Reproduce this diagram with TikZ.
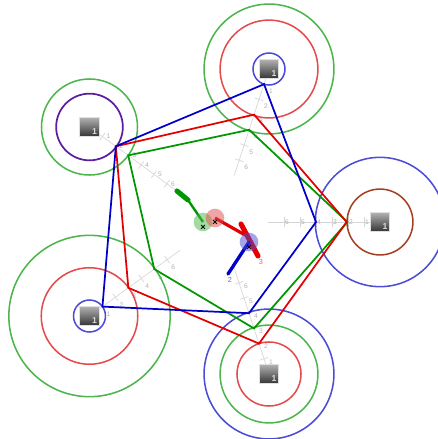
\documentclass[tikz,border=0pt]{standalone}
\usepackage{fontspec}
\setmainfont{Liberation Sans}
\usetikzlibrary{calc}
\definecolor{cg}{RGB}{76,181,76}
\definecolor{cr}{RGB}{226,76,76}
\definecolor{cb}{RGB}{76,76,214}
\definecolor{lg}{RGB}{0,150,0}
\definecolor{lr}{RGB}{226,0,0}
\definecolor{lb}{RGB}{0,0,200}
\definecolor{ax}{RGB}{214,214,214}
\definecolor{tk}{RGB}{175,175,175}
\definecolor{brown}{RGB}{165,65,35}
\definecolor{purp}{RGB}{90,30,160}
\tikzset{
  x=0.75pt,y=-0.75pt,
  ring/.style={draw=#1,line width=1.15pt,fill=none},
  poly/.style={draw=#1,line width=1.3pt,line join=miter},
  sq/.style={draw=black!12,line width=.5pt,minimum size=14.6pt,inner sep=0pt,outer sep=0pt,
    top color=black!30,bottom color=black!80,text=white},
  num/.style={font=\fontsize{5}{5}\selectfont,text=tk,inner sep=0pt},
  halo/.style={circle,minimum size=14pt,inner sep=0pt,fill=#1,fill opacity=.5,draw=none},
  vlab/.style={font=\fontsize{5.5}{5.5}\selectfont,inner sep=0pt,text=#1},
  xmark/.style={font=\fontsize{7}{7}\bfseries\selectfont,inner sep=0pt}
}
\newcommand{\axisfrom}[4]{%
  \coordinate (e#1) at ($(#1)!84pt!(#2)$);
  \draw[ax,line width=.5pt] (#1) -- (e#1);
  \foreach \k in {1,...,6}{
    \pgfmathsetmacro{\dd}{\k*12}
    \coordinate (m) at ($(#1)!\dd pt!(#2)$);
    \draw[ax,line width=.5pt] ($(m)!3.4pt!90:(#2)$) -- ($(m)!3.4pt!-90:(#2)$);
    \node[num] at ($(m)+(#3,#4)$) {\k};
  }
}
\begin{document}
\begin{tikzpicture}
\useasboundingbox (0,0) rectangle (437,439);
\coordinate (c) at (219,222);
\coordinate (t) at (269,69);
\coordinate (r) at (380,222);
\coordinate (b) at (269,374);
\coordinate (l) at (89.5,316);
\coordinate (u) at (89.5,127);
% axes
\axisfrom{t}{c}{7}{7}
\axisfrom{r}{c}{3}{0}
\axisfrom{b}{c}{7}{3}
\axisfrom{l}{c}{6}{8}
\axisfrom{u}{c}{6}{0}
% rings
\draw[ring=cg] (t) circle (48.7pt);
\draw[ring=cr] (t) circle (36.7pt);
\draw[ring=cb] (t) circle (12pt);
\draw[ring=cb] (r) circle (48.5pt);
\draw[ring=brown] (r) circle (24.7pt);
\draw[ring=cb] (b) circle (48.7pt);
\draw[ring=cg] (b) circle (36.7pt);
\draw[ring=cr] (b) circle (24pt);
\draw[ring=cg] (l) circle (60.5pt);
\draw[ring=cr] (l) circle (36.2pt);
\draw[ring=cb] (l) circle (12pt);
\draw[ring=cg] (u) circle (36pt);
\draw[ring=purp,line width=1.3pt] (u) circle (25pt);
% squares
\foreach \n in {t,r,b,l,u}{
  \node[sq] (s\n) at (\n) {};
  \node[font=\fontsize{6.5}{6.5}\bfseries\selectfont,text=white!85!black,inner sep=0pt] (lab\n) at ($(\n)+(5,5)$) {1};
}
% vertices
\coordinate (bt) at ($(t)!12pt!(c)$);
\coordinate (rt) at ($(t)!36pt!(c)$);
\coordinate (gt) at ($(t)!48pt!(c)$);
\coordinate (br) at ($(r)!48pt!(c)$);
\coordinate (rr) at ($(r)!25pt!(c)$);
\coordinate (gr) at ($(r)!24.5pt!(c)$);
\coordinate (bb) at ($(b)!48pt!(c)$);
\coordinate (rb) at ($(b)!24pt!(c)$);
\coordinate (gb) at ($(b)!36pt!(c)$);
\coordinate (bl) at ($(l)!12pt!(c)$);
\coordinate (rl) at ($(l)!36pt!(c)$);
\coordinate (gl) at ($(l)!60pt!(c)$);
\coordinate (bu) at ($(u)!24.5pt!(c)$);
\coordinate (ru) at ($(u)!24.5pt!(c)$);
\coordinate (gu) at ($(u)!36pt!(c)$);
\draw[poly=lg] (gt) -- (gr) -- (gb) -- (gl) -- (gu) -- cycle;
\draw[poly=lr] (rt) -- (rr) -- (rb) -- (rl) -- (ru) -- cycle;
\draw[poly=lb] (bt) -- (br) -- (bb) -- (bl) -- (bu) -- cycle;
% arms
\coordinate (og) at (203,222);
\coordinate (or) at (215,218);
\coordinate (ob) at (249,242);
\coordinate (kg) at (188,200);
\coordinate (hg) at (177,191);
\coordinate (kr) at (245,235);
\coordinate (hr) at (258,256);
\coordinate (jr) at (241,224);
\coordinate (hb) at (228,274);
\draw[lg,line width=1.8pt] (og) -- (kg);
\draw[lg,line width=3.8pt,line cap=round] (kg) -- (hg);
\draw[lr,line width=2.4pt] (or) -- (kr);
\draw[lr,line width=3.8pt,line cap=round] (jr) -- (hr);
\draw[lb,line width=2.5pt,line cap=round] (ob) -- (hb);
\node[halo=cg] (hog) at (og) {};
\node[halo=cr] (hor) at (or) {};
\node[halo=cb] (hob) at (ob) {};
\node[xmark] at ($(og)+(0,6)$) {×};
\node[xmark] at ($(or)+(0,5)$) {×};
\node[xmark] at ($(ob)+(0,6)$) {×};
\node[vlab=lb!60] at (230,280) {2};
\node[vlab=lr!60] at (261,262) {3};
\end{tikzpicture}
\end{document}
